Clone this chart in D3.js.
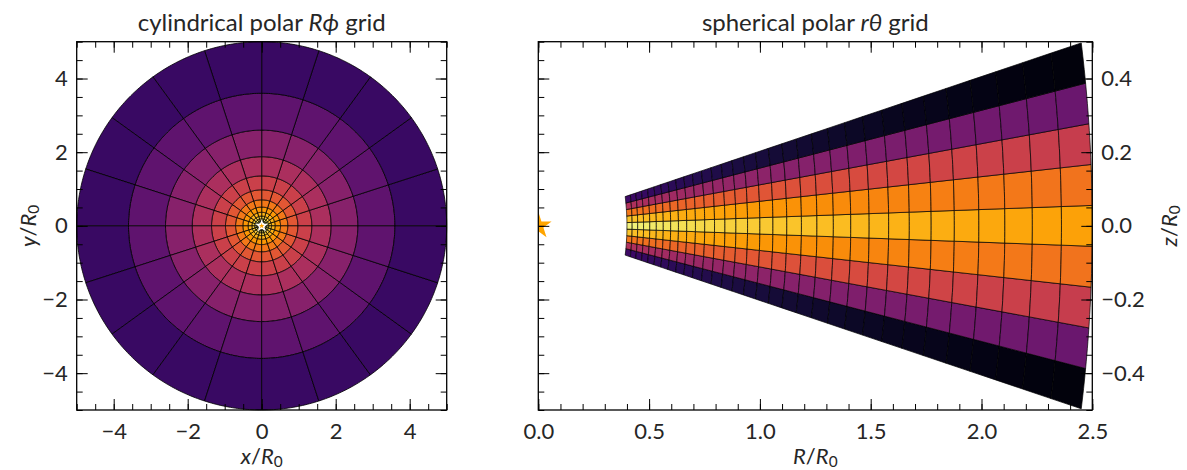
<!DOCTYPE html>
<html><head><meta charset="utf-8">
<script src="https://cdn.jsdelivr.net/npm/d3@7"></script>
<style>
body{margin:0;background:#fff}
text{font-family:Lato,"Open Sans","DejaVu Sans",sans-serif;fill:#262626;font-weight:400}
</style>
</head><body>
<svg id="c" width="1187" height="470"></svg>
<script>
// ---------------- data ----------------
// cylindrical polar grid (left panel)
const cylREdges = [0.1, 0.138, 0.192, 0.266, 0.368, 0.510, 0.707, 0.979, 1.356, 1.878, 2.60, 3.60, 5.0];
const cylPhiEdgesDeg = [0,18,36,54,72,90,108,126,144,162,180,198,216,234,252,270,288,306,324,342,360];
const cylRingValues = [0.97, 0.93, 0.88, 0.83, 0.77, 0.70, 0.62, 0.54, 0.46, 0.37, 0.27, 0.18];
// spherical polar grid (right panel)
const sphREdges = [0.4000,0.4236,0.4485,0.4750,0.5030,0.5326,0.5640,0.5973,0.6325,0.6698,0.7092,
  0.7510,0.7953,0.8422,0.8918,0.9444,1.0000,1.0589,1.1214,1.1875,1.2574,1.3315,1.4100,1.4931,
  1.5811,1.6743,1.7730,1.8775,1.9882,2.1054,2.2295,2.3609,2.5000];
const sphLatEdges = [-0.2,-0.1556,-0.1111,-0.0667,-0.0222,0.0222,0.0667,0.1111,0.1556,0.2]; // angle from midplane (rad)
const sphRadialValues = [0.960,0.955,0.949,0.944,0.938,0.933,0.927,0.922,0.916,0.911,0.905,0.900,
  0.894,0.889,0.883,0.878,0.872,0.867,0.861,0.856,0.850,0.845,0.839,0.834,0.828,0.823,0.817,0.812,
  0.806,0.801,0.795,0.790];
const sphLatOffsets = [-0.77,-0.49,-0.26,-0.10,0,-0.10,-0.26,-0.49,-0.77];
// ticks
const leftMajor = [-4,-2,0,2,4];
const leftMinor = d3.range(-5,5.01,0.5);
const rightXMajor = [0,0.5,1.0,1.5,2.0,2.5];
const rightXMinor = d3.range(0,2.501,0.1);
const rightYMajor = [-0.4,-0.2,0,0.2,0.4];
const rightYMinor = d3.range(-0.5,0.501,0.05);

// ---------------- layout ----------------
const svg = d3.select("#c");
const top_ = 41.7, bot = 410;
const xL = d3.scaleLinear().domain([-5,5]).range([76.7,446.7]);
const yL = d3.scaleLinear().domain([-5,5]).range([bot,top_]);
const xR = d3.scaleLinear().domain([0,2.5]).range([538.3,1092.3]);
const yR = d3.scaleLinear().domain([-0.5,0.5]).range([bot,top_]);
const color = t => d3.interpolateInferno(Math.max(0,Math.min(1,t)));
const line = d3.line();

function cellPath(toXY, r0, r1, a0, a1, n){
  const pts=[];
  for(let k=0;k<=n;k++){ pts.push(toXY(r1, a0+(a1-a0)*k/n)); }
  for(let k=n;k>=0;k--){ pts.push(toXY(r0, a0+(a1-a0)*k/n)); }
  return line(pts)+"Z";
}
function starPath(cx, cy, ro){
  const ri = ro*0.381966, pts=[];
  for(let k=0;k<10;k++){
    const a = -Math.PI/2 + k*Math.PI/5, r = k%2 ? ri : ro;
    pts.push([cx+r*Math.cos(a), cy+r*Math.sin(a)]);
  }
  return line(pts)+"Z";
}

// ---------------- left panel ----------------
const gL = svg.append("g");
const cylXY = (R,phi)=>[xL(R*Math.cos(phi)), yL(R*Math.sin(phi))];
cylRingValues.forEach((v,i)=>{
  for(let j=0;j<cylPhiEdgesDeg.length-1;j++){
    const a0=cylPhiEdgesDeg[j]*Math.PI/180, a1=cylPhiEdgesDeg[j+1]*Math.PI/180;
    gL.append("path").attr("d", cellPath(cylXY, cylREdges[i], cylREdges[i+1], a0, a1, 24))
      .attr("fill", color(v)).attr("stroke","#000").attr("stroke-width",0.8);
  }
});
gL.append("path").attr("d", starPath(xL(0), yL(0), 5)).attr("fill","#ffa500")
  .attr("stroke","#fff").attr("stroke-width",1.2);

// ---------------- right panel ----------------
svg.append("clipPath").attr("id","clipR").append("rect")
  .attr("x",xR(0)).attr("y",top_).attr("width",xR(2.5)-xR(0)).attr("height",bot-top_);
const gR = svg.append("g").attr("clip-path","url(#clipR)");
const sphXY = (r,d)=>[xR(r*Math.cos(d)), yR(r*Math.sin(d))];
sphRadialValues.forEach((v,i)=>{
  sphLatOffsets.forEach((o,j)=>{
    gR.append("path").attr("d", cellPath(sphXY, sphREdges[i], sphREdges[i+1], sphLatEdges[j], sphLatEdges[j+1], 6))
      .attr("fill", color(v+o)).attr("stroke","#000").attr("stroke-width",0.7);
  });
});
gR.append("path").attr("d", starPath(xR(0), yR(0), 14)).attr("fill","#ffa500");

// ---------------- axes ----------------
function axes(g, xs, ys, xMaj, xMin, yMaj, yMin, xFmt, yFmt, yRightLabels){
  const xl=xs.range()[0], xr=xs.range()[1];
  const styleAx = s=>{ s.select(".domain").remove(); s.selectAll("line").attr("stroke","#000").attr("stroke-width",1);
    s.selectAll("text").style("font-size","22px").attr("fill","#262626"); };
  g.append("g").attr("transform",`translate(0,${bot})`).call(d3.axisBottom(xs).tickValues(xMin).tickSize(-6).tickFormat("")).call(styleAx);
  g.append("g").attr("transform",`translate(0,${bot})`).call(d3.axisBottom(xs).tickValues(xMaj).tickSize(-11).tickPadding(13).tickFormat(d3.format(xFmt))).call(styleAx);
  g.append("g").attr("transform",`translate(0,${top_})`).call(d3.axisTop(xs).tickValues(xMin).tickSize(-6).tickFormat("")).call(styleAx);
  g.append("g").attr("transform",`translate(0,${top_})`).call(d3.axisTop(xs).tickValues(xMaj).tickSize(-11).tickFormat("")).call(styleAx);
  g.append("g").attr("transform",`translate(${xl},0)`).call(d3.axisLeft(ys).tickValues(yMin).tickSize(-6).tickFormat("")).call(styleAx);
  g.append("g").attr("transform",`translate(${xl},0)`).call(d3.axisLeft(ys).tickValues(yMaj).tickSize(-11).tickPadding(9)
     .tickFormat(yRightLabels? "": d3.format(yFmt))).call(styleAx);
  g.append("g").attr("transform",`translate(${xr},0)`).call(d3.axisRight(ys).tickValues(yMin).tickSize(-6).tickFormat("")).call(styleAx);
  g.append("g").attr("transform",`translate(${xr},0)`).call(d3.axisRight(ys).tickValues(yMaj).tickSize(-11).tickPadding(9)
     .tickFormat(yRightLabels? d3.format(yFmt): "")).call(styleAx);
  g.append("rect").attr("x",xl).attr("y",top_).attr("width",xr-xl).attr("height",bot-top_)
    .attr("fill","none").attr("stroke","#000").attr("stroke-width",1.3);
}
axes(svg.append("g"), xL, yL, leftMajor, leftMinor, leftMajor, leftMinor, "d", "d", false);
axes(svg.append("g"), xR, yR, rightXMajor, rightXMinor, rightYMajor, rightYMinor, ".1f", ".1f", true);

// ---------------- labels ----------------
function label(x, y, parts, rot, size){
  const t = svg.append("text").attr("text-anchor","middle").style("font-size",(size||22)+"px")
    .attr("transform",`translate(${x},${y})`+(rot?` rotate(${rot})`:""));
  parts.forEach(p=>{
    const s=t.append("tspan").text(p[0]);
    if(p[1]==="i") s.style("font-style","italic");
    if(p[1]==="sub") s.attr("dy","0.22em").style("font-size","0.7em");
  });
  return t;
}
label(xL(0), 31, [["cylindrical polar "],["Rϕ","i"],[" grid"]], 0, 24);
label((xR(0)+xR(2.5))/2, 31, [["spherical polar "],["rθ","i"],[" grid"]], 0, 24);
label(xL(0), 464, [["x","i"],["/"],["R","i"],["0","sub"]]);
label(xR(1.25), 464, [["R","i"],["/"],["R","i"],["0","sub"]]);
label(36, yL(0), [["y","i"],["/"],["R","i"],["0","sub"]], -90);
label(1177, yR(0), [["z","i"],["/"],["R","i"],["0","sub"]], -90);
</script>
</body></html>
